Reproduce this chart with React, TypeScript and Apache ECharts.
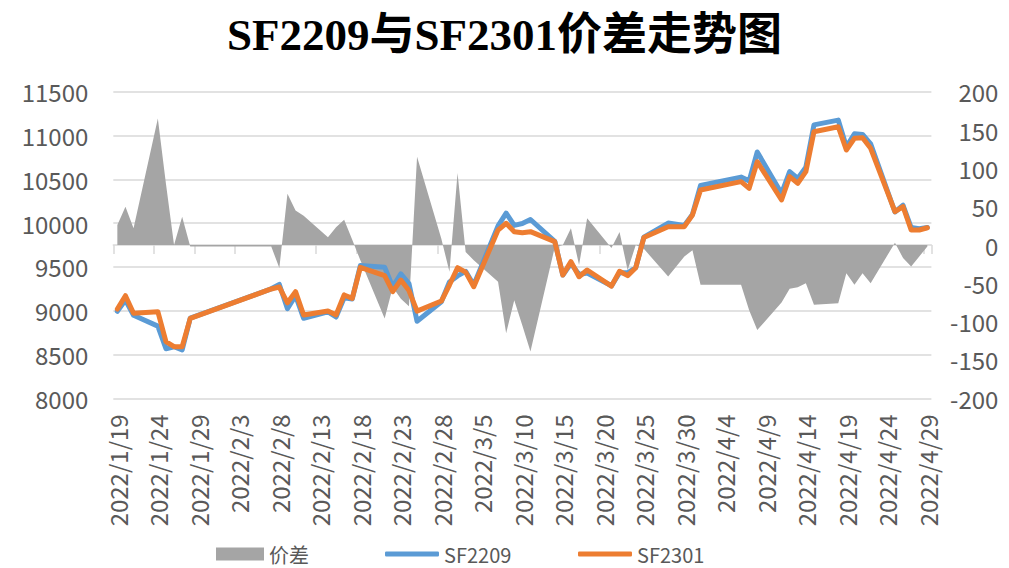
import React, { useEffect, useRef } from "react";
import * as echarts from "echarts";

const TITLE = "SF2209与SF2301价差走势图";
const calendarStart = "2022-01-19";
const calendarEnd = "2022-04-29";

const tradeDates = [
  "2022/1/19", "2022/1/20", "2022/1/21", "2022/1/24", "2022/1/25", "2022/1/26", "2022/1/27", "2022/1/28",
  "2022/2/7", "2022/2/8", "2022/2/9", "2022/2/10", "2022/2/11", "2022/2/14", "2022/2/15", "2022/2/16",
  "2022/2/17", "2022/2/18", "2022/2/21", "2022/2/22", "2022/2/23", "2022/2/24", "2022/2/25", "2022/2/28",
  "2022/3/1", "2022/3/2", "2022/3/3", "2022/3/4", "2022/3/7", "2022/3/8", "2022/3/9", "2022/3/10",
  "2022/3/11", "2022/3/14", "2022/3/15", "2022/3/16", "2022/3/17", "2022/3/18", "2022/3/21", "2022/3/22",
  "2022/3/23", "2022/3/24", "2022/3/25", "2022/3/28", "2022/3/29", "2022/3/30", "2022/3/31", "2022/4/1",
  "2022/4/6", "2022/4/7", "2022/4/8", "2022/4/11", "2022/4/12", "2022/4/13", "2022/4/14", "2022/4/15",
  "2022/4/18", "2022/4/19", "2022/4/20", "2022/4/21", "2022/4/22", "2022/4/25", "2022/4/26", "2022/4/27",
  "2022/4/28", "2022/4/29",
];

// 价差 = SF2301 - SF2209
const spread = [
  26, 50, 22, 165, 80, 0, 37, -2,
  -2, -30, 67, 45, 38, 10, 23, 33,
  7, -20, -96, -55, -70, -80, 115, 8,
  -35, 94, -9, -20, -48, -115, -72, -105,
  -139, -3, 0, 22, -26, 35, -4, 17,
  -33, 0, -5, -41, -28, -15, -7, -52,
  -52, -85, -111, -75, -57, -55, -50, -78,
  -76, -37, -52, -37, -50, 3, -17, -28,
  -15, -2,
];

const sf2209 = [
  8993, 9121, 8948, 8824, 8566, 8589, 8552, 8915,
  9250, 9300, 9023, 9172, 8913, 8987, 8928, 9147,
  9134, 9515, 9496, 9272, 9420, 9310, 8880, 9102,
  9328, 9397, 9449, 9294, 9968, 10113, 9974, 9995,
  10041, 9791, 9407, 9538, 9414, 9430, 9284, 9433,
  9433, 9491, 9840, 10000, 9987, 9974, 10099, 10430,
  10525, 10482, 10812, 10339, 10587, 10509, 10637, 11121,
  11176, 10871, 11020, 11012, 10904, 10127, 10204, 9949,
  9936, 9949,
];

const sf2301 = [
  9019, 9171, 8970, 8989, 8646, 8589, 8589, 8913,
  9248, 9270, 9090, 9217, 8951, 8997, 8951, 9180,
  9141, 9495, 9400, 9217, 9350, 9230, 8995, 9110,
  9293, 9491, 9440, 9274, 9920, 9998, 9902, 9890,
  9902, 9788, 9407, 9560, 9388, 9465, 9280, 9450,
  9400, 9491, 9835, 9959, 9959, 9959, 10092, 10378,
  10473, 10397, 10701, 10264, 10530, 10454, 10587, 11043,
  11100, 10834, 10968, 10975, 10854, 10130, 10187, 9921,
  9921, 9947,
];

const leftAxis = { min: 8000, max: 11500, interval: 500 };
const rightAxis = { min: -200, max: 200, interval: 50 };

function buildCalendar(s: string, e: string): string[] {
  const out: string[] = [];
  const d = new Date(s + "T00:00:00Z");
  const end = new Date(e + "T00:00:00Z");
  while (d.getTime() <= end.getTime()) {
    out.push(`${d.getUTCFullYear()}/${d.getUTCMonth() + 1}/${d.getUTCDate()}`);
    d.setUTCDate(d.getUTCDate() + 1);
  }
  return out;
}

const LABEL_FONT = "'Noto Sans CJK SC', 'DejaVu Sans', sans-serif";
const LABEL_COLOR = "#595959";
const GRID_COLOR = "#d9d9d9";
const BLUE = "#5B9BD5";
const ORANGE = "#ED7D31";
const GRAY = "#A5A5A5";

export default function App() {
  const ref = useRef<HTMLDivElement>(null);

  useEffect(() => {
    if (!ref.current) return;
    const chart = echarts.init(ref.current, undefined, { renderer: "svg" });
    const categories = buildCalendar(calendarStart, calendarEnd);
    const legendText = { fontSize: 20, lineHeight: 20, color: LABEL_COLOR, fontFamily: LABEL_FONT };
    const plain = (v: number) => String(v);

    chart.setOption({
      animation: false,
      backgroundColor: "#ffffff",
      title: {
        text: TITLE,
        left: "center",
        top: 12,
        padding: 0,
        textStyle: {
          fontSize: 45,
          fontWeight: "bold",
          color: "#000000",
          fontFamily: "'Liberation Serif', 'Noto Sans CJK SC', serif",
        },
      },
      legend: [
        {
          data: [{ name: "价差", icon: "rect", itemStyle: { color: GRAY } }],
          left: 216,
          top: 544,
          padding: 0,
          itemWidth: 48,
          itemHeight: 13,
          textStyle: legendText,
        },
        {
          data: [{ name: "SF2209", icon: "roundRect", itemStyle: { color: BLUE } }],
          left: 385,
          top: 544,
          padding: 0,
          itemWidth: 54,
          itemHeight: 5,
          textStyle: legendText,
        },
        {
          data: [{ name: "SF2301", icon: "roundRect", itemStyle: { color: ORANGE } }],
          left: 578,
          top: 544,
          padding: 0,
          itemWidth: 54,
          itemHeight: 5,
          textStyle: legendText,
        },
      ],
      grid: {
        left: 113.3,
        right: 77.6,
        top: 91.7,
        bottom: 169.7,
        outerBoundsMode: "none",
      },
      xAxis: {
        type: "category",
        data: categories,
        boundaryGap: true,
        axisLine: { show: true, lineStyle: { color: GRID_COLOR, width: 1.5 } },
        axisTick: { show: true, interval: 4, length: 9, lineStyle: { color: GRID_COLOR, width: 1.5 } },
        axisLabel: {
          interval: 4,
          rotate: 90,
          margin: 16,
          fontSize: 24,
          color: LABEL_COLOR,
          fontFamily: LABEL_FONT,
        },
        splitLine: { show: false },
      },
      yAxis: [
        {
          type: "value",
          min: leftAxis.min,
          max: leftAxis.max,
          interval: leftAxis.interval,
          axisLine: { show: false },
          axisTick: { show: false },
          axisLabel: { margin: 25, fontSize: 24, color: LABEL_COLOR, fontFamily: LABEL_FONT, formatter: plain },
          splitLine: { show: true, lineStyle: { color: GRID_COLOR, width: 1.5 } },
        },
        {
          type: "value",
          position: "right",
          min: rightAxis.min,
          max: rightAxis.max,
          interval: rightAxis.interval,
          axisLine: { show: false },
          axisTick: { show: false },
          axisLabel: {
            margin: 67,
            align: "right",
            fontSize: 24,
            color: LABEL_COLOR,
            fontFamily: LABEL_FONT,
            formatter: plain,
          },
          splitLine: { show: false },
        },
      ],
      series: [
        {
          name: "价差",
          type: "line",
          yAxisIndex: 1,
          data: tradeDates.map((d, i) => [d, spread[i]]),
          symbol: "none",
          lineStyle: { width: 0, color: GRAY },
          itemStyle: { color: GRAY },
          areaStyle: { color: GRAY, opacity: 1 },
          z: 1,
        },
        {
          name: "SF2209",
          type: "line",
          yAxisIndex: 0,
          data: tradeDates.map((d, i) => [d, sf2209[i]]),
          symbol: "none",
          lineStyle: { width: 5, color: BLUE, cap: "round", join: "round" },
          itemStyle: { color: BLUE },
          z: 2,
        },
        {
          name: "SF2301",
          type: "line",
          yAxisIndex: 0,
          data: tradeDates.map((d, i) => [d, sf2301[i]]),
          symbol: "none",
          lineStyle: { width: 5, color: ORANGE, cap: "round", join: "round" },
          itemStyle: { color: ORANGE },
          z: 3,
        },
      ],
    });

    return () => chart.dispose();
  }, []);

  return (
    <div
      ref={ref}
      style={{ position: "fixed", left: 0, top: 0, width: 1009, height: 568, background: "#fff" }}
    />
  );
}
